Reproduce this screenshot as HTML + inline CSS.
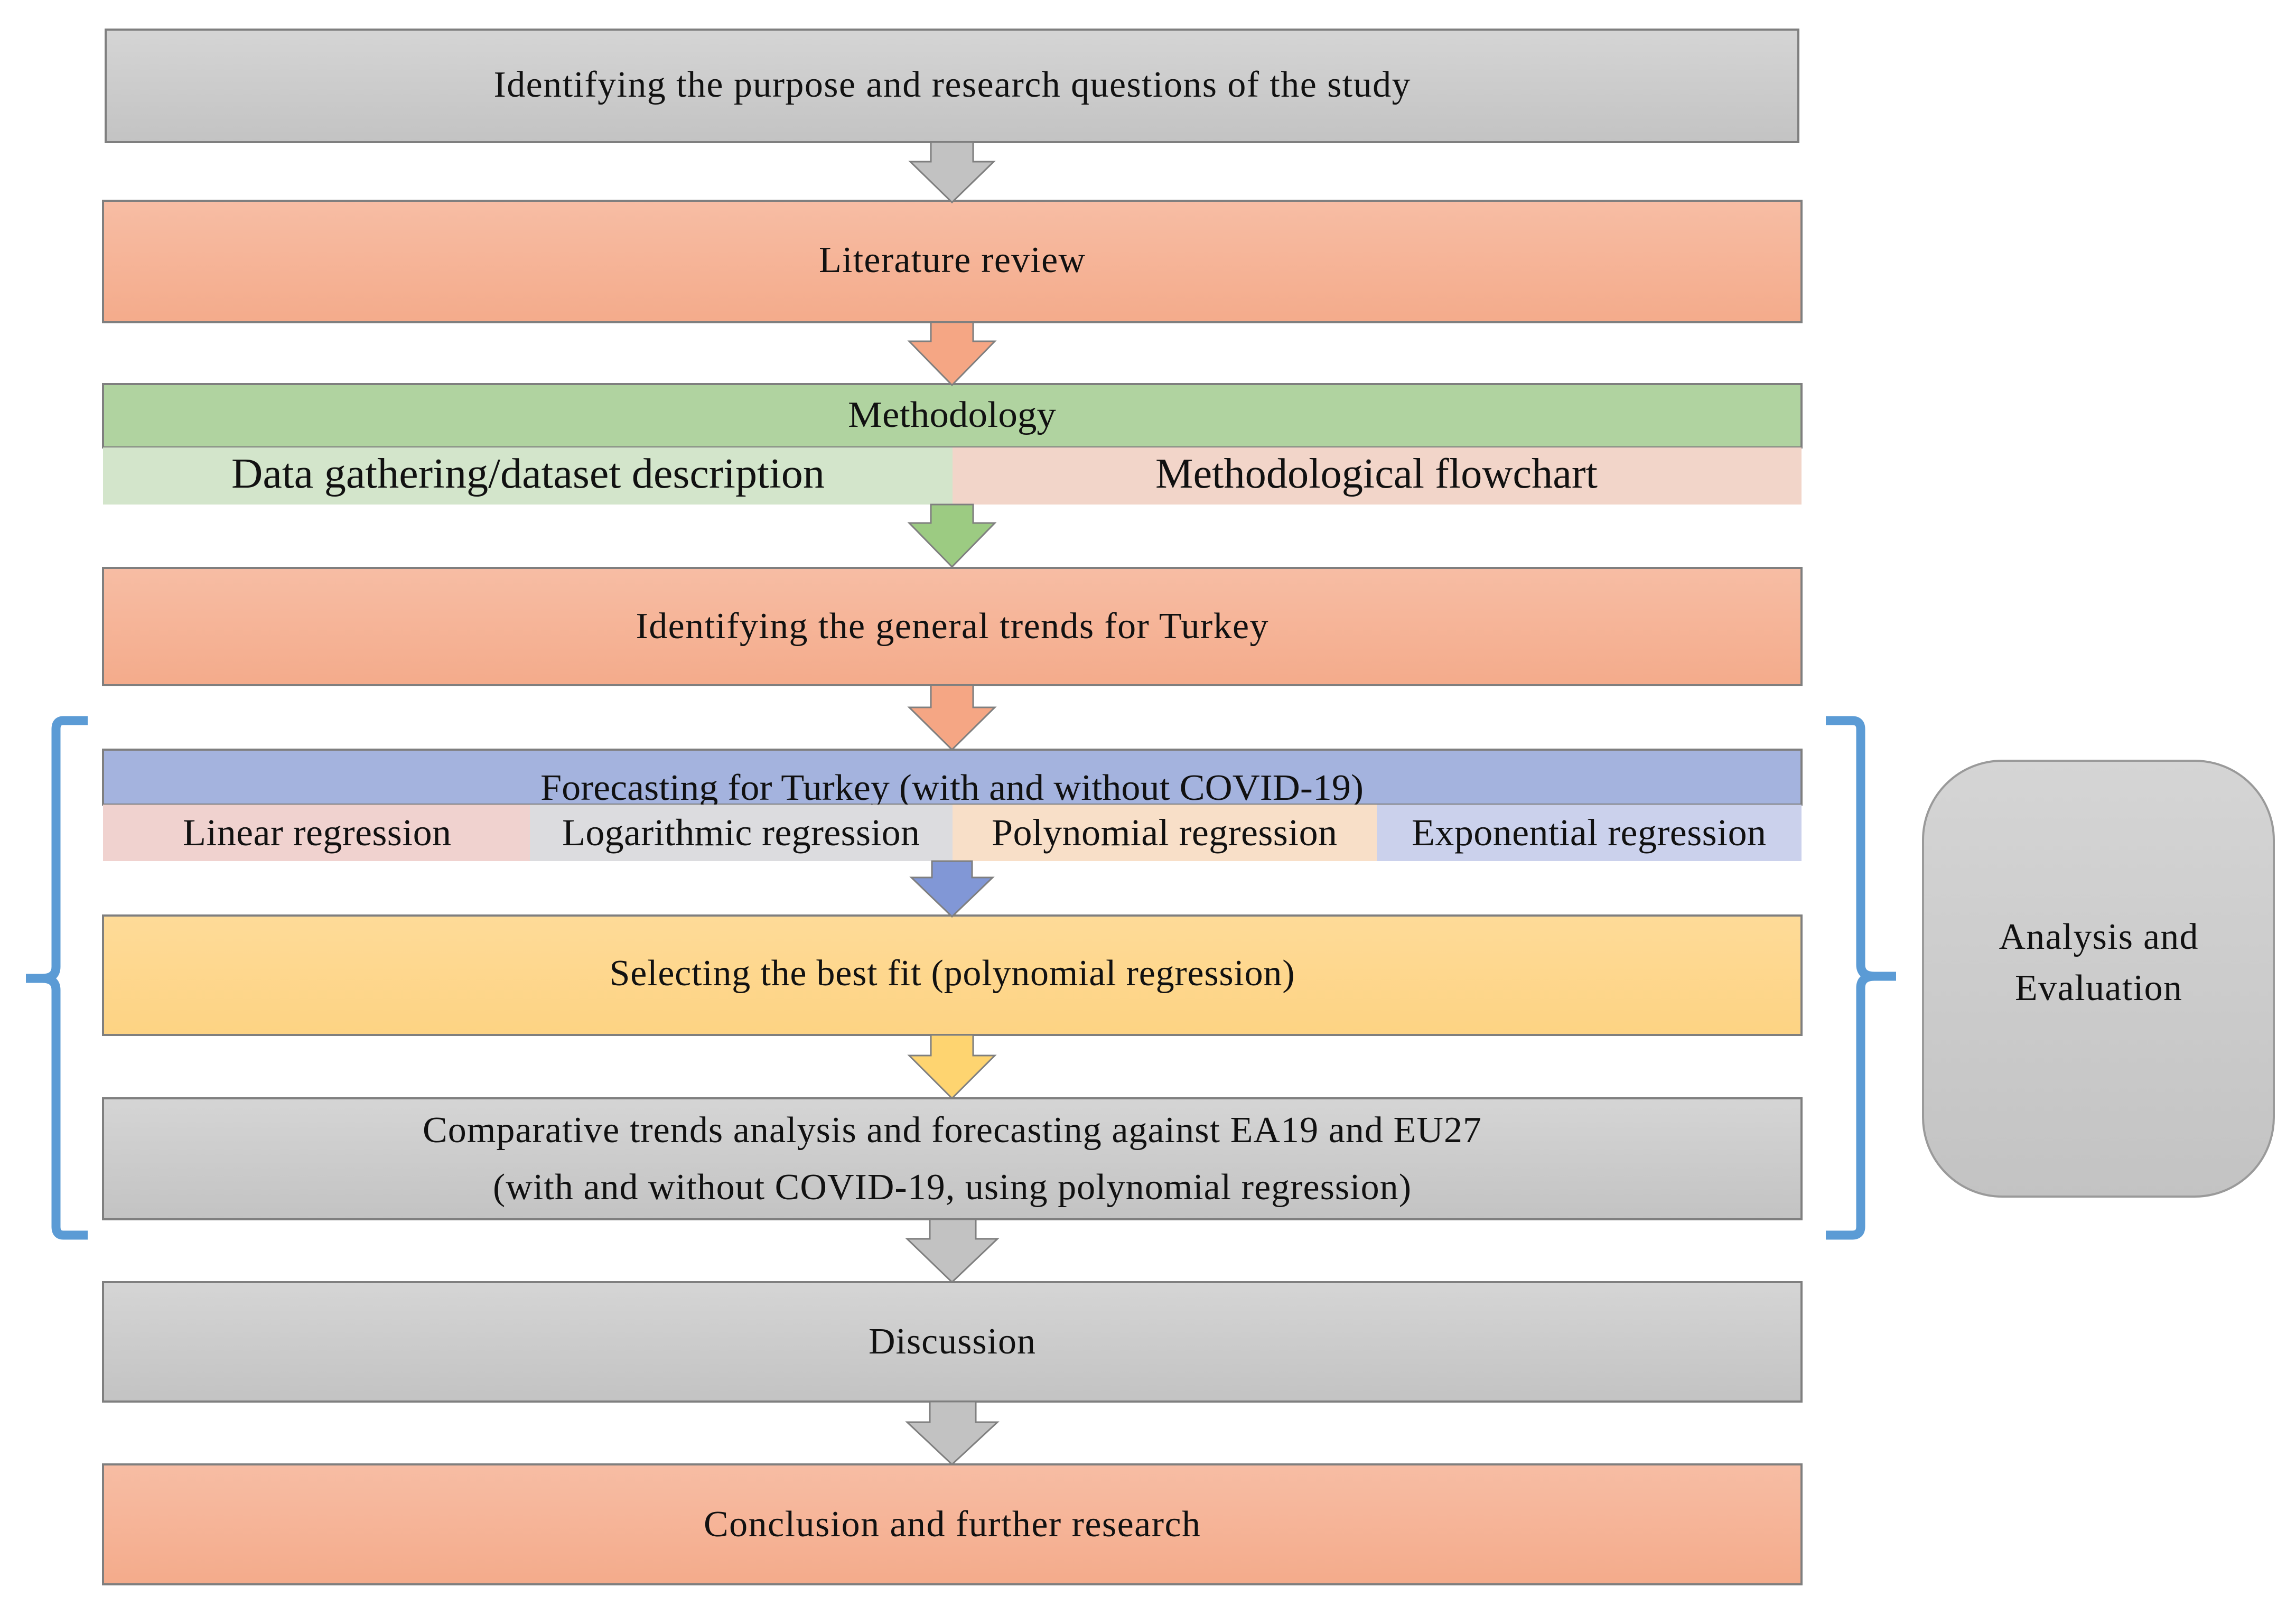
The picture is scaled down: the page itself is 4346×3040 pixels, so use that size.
<!DOCTYPE html>
<html><head><meta charset="utf-8"><style>html,body{margin:0;padding:0;background:#fff}svg{display:block}</style></head><body>
<svg width="4346" height="3040" viewBox="0 0 4346 3040" xmlns="http://www.w3.org/2000/svg" font-family="'Liberation Serif', serif" fill="#111">
<defs>
<linearGradient id="gray" x1="0" y1="0" x2="0" y2="1"><stop offset="0" stop-color="#d5d5d5"/><stop offset="1" stop-color="#c3c3c3"/></linearGradient>
<linearGradient id="sal" x1="0" y1="0" x2="0" y2="1"><stop offset="0" stop-color="#f7bda4"/><stop offset="1" stop-color="#f4ab8b"/></linearGradient>
<linearGradient id="yel" x1="0" y1="0" x2="0" y2="1"><stop offset="0" stop-color="#fedb98"/><stop offset="1" stop-color="#fdd383"/></linearGradient>
</defs>
<g stroke="#7f7f7f" stroke-width="4">
<rect x="200" y="56" width="3204" height="213" fill="url(#gray)"/>
<rect x="195" y="380" width="3215" height="230" fill="url(#sal)"/>
<rect x="195" y="1075" width="3215" height="222" fill="url(#sal)"/>
<rect x="195" y="1733" width="3215" height="226" fill="url(#yel)"/>
<rect x="195" y="2079" width="3215" height="229" fill="url(#gray)"/>
<rect x="195" y="2427" width="3215" height="226" fill="url(#gray)"/>
<rect x="195" y="2772" width="3215" height="227" fill="url(#sal)"/>
</g>
<rect x="195" y="727" width="3215" height="120" fill="#b0d3a0" stroke="#7f7f7f" stroke-width="4"/>
<text x="1802" y="808" font-size="70" text-anchor="middle" textLength="394" lengthAdjust="spacingAndGlyphs">Methodology</text>
<rect x="195" y="847" width="1608" height="108" fill="#d3e5cb"/>
<rect x="1803" y="847" width="1607" height="108" fill="#f2d5c9"/>
<text x="438" y="923" font-size="80" textLength="1123" lengthAdjust="spacingAndGlyphs">Data gathering/dataset description</text>
<text x="2187" y="923" font-size="80" textLength="837" lengthAdjust="spacingAndGlyphs">Methodological flowchart</text>
<rect x="195" y="1419" width="3215" height="104" fill="#a4b3de" stroke="#7f7f7f" stroke-width="4"/>
<text x="1802" y="1514" font-size="70" text-anchor="middle" textLength="1558" lengthAdjust="spacingAndGlyphs">Forecasting for Turkey (with and without COVID-19)</text>
<rect x="195" y="1523" width="808" height="107" fill="#f0d2cf"/>
<rect x="1003" y="1523" width="800" height="107" fill="#dcdcdf"/>
<rect x="1803" y="1523" width="803" height="107" fill="#f8dfc8"/>
<rect x="2606" y="1523" width="804" height="107" fill="#cbd1ec"/>
<g font-size="72" lengthAdjust="spacingAndGlyphs">
<text x="346" y="1600" textLength="508">Linear regression</text>
<text x="1064" y="1600" textLength="677">Logarithmic regression</text>
<text x="1877" y="1600" textLength="654">Polynomial regression</text>
<text x="2672" y="1600" textLength="671">Exponential regression</text>
</g>
<g stroke="#7f7f7f" stroke-width="3">
<path d="M1762 269 H1842 V306 H1881 L1802 383 L1723 306 H1762 Z" fill="#c2c2c2"/>
<path d="M1762 610 H1842 V646 H1883 L1802 729 L1721 646 H1762 Z" fill="#f5a684"/>
<path d="M1762 955 H1842 V990 H1883 L1802 1073 L1721 990 H1762 Z" fill="#9ccb82"/>
<path d="M1762 1297 H1842 V1339 H1883 L1802 1419 L1721 1339 H1762 Z" fill="#f5a684"/>
<path d="M1764 1630 H1840 V1661 H1879 L1802 1735 L1725 1661 H1764 Z" fill="#8197d6"/>
<path d="M1762 1959 H1842 V1998 H1883 L1802 2079 L1721 1998 H1762 Z" fill="#fed470"/>
<path d="M1760 2308 H1847 V2345 H1888 L1802 2427 L1717 2345 H1760 Z" fill="#c2c2c2"/>
<path d="M1760 2653 H1847 V2692 H1888 L1802 2772 L1717 2692 H1760 Z" fill="#c2c2c2"/>
</g>
<g font-size="70" text-anchor="middle" lengthAdjust="spacingAndGlyphs">
<text x="1802" y="183" textLength="1735">Identifying the purpose and research questions of the study</text>
<text x="1802" y="515" textLength="504">Literature review</text>
<text x="1802" y="1208" textLength="1197">Identifying the general trends for Turkey</text>
<text x="1802" y="1865" textLength="1297">Selecting the best fit (polynomial regression)</text>
<text x="1802" y="2162" textLength="2004">Comparative trends analysis and forecasting against EA19 and EU27</text>
<text x="1802" y="2270" textLength="1738">(with and without COVID-19, using polynomial regression)</text>
<text x="1802" y="2562" textLength="316">Discussion</text>
<text x="1802" y="2908" textLength="940">Conclusion and further research</text>
</g>
<g fill="none" stroke="#5b9bd5" stroke-width="17" stroke-linejoin="round">
<path d="M166 1364 H120 Q106 1364 106 1380 V1830 Q106 1852 80 1852 H49 M80 1852 Q106 1852 106 1874 V2322 Q106 2338 120 2338 H166"/>
<path d="M3456 1364 H3506 Q3522 1364 3522 1380 V1826 Q3522 1848 3548 1848 H3589 M3548 1848 Q3522 1848 3522 1870 V2322 Q3522 2338 3506 2338 H3456"/>
</g>
<rect x="3640" y="1440" width="664" height="825" rx="150" ry="150" fill="url(#gray)" stroke="#9a9a9a" stroke-width="4"/>
<g font-size="70" text-anchor="middle" lengthAdjust="spacingAndGlyphs">
<text x="3972" y="1796" textLength="377">Analysis and</text>
<text x="3972" y="1893" textLength="316">Evaluation</text>
</g>
</svg>
</body></html>
